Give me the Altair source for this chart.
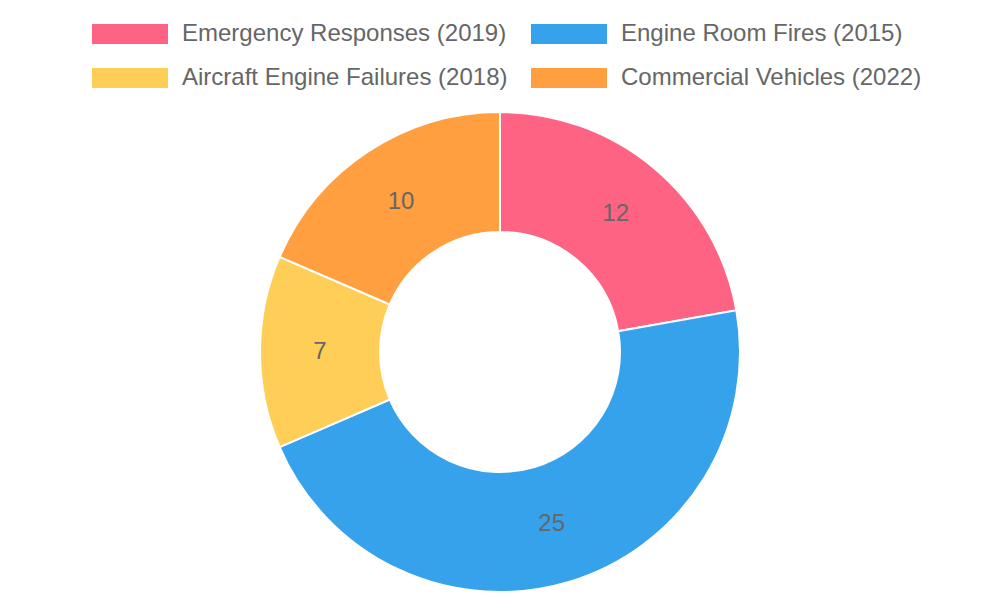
"""Doughnut chart of incident counts by category."""
import pandas as pd
import altair as alt

categories = [
    "Emergency Responses (2019)",
    "Engine Room Fires (2015)",
    "Aircraft Engine Failures (2018)",
    "Commercial Vehicles (2022)",
]
counts = [12, 25, 7, 10]
colours = ["#ff6384", "#36a2eb", "#ffce56", "#ff9f40"]

df = pd.DataFrame({"category": categories, "count": counts, "order": range(len(categories))})

# wide flat box for the legend swatches (scaled by sqrt(size) / 2)
box_path = "M-1,-0.2632H1V0.2632H-1Z"

base = alt.Chart(df).encode(
    theta=alt.Theta("count:Q", stack=True),
    order=alt.Order("order:Q"),
    color=alt.Color(
        "category:N",
        sort=categories,
        scale=alt.Scale(domain=categories, range=colours),
        legend=alt.Legend(
            title=None,
            orient="none",
            direction="horizontal",
            legendX=84,
            legendY=-90,
            columns=2,
            columnPadding=23,
            rowPadding=20,
            clipHeight=24,
            symbolType=box_path,
            symbolSize=5776,
            symbolStrokeWidth=0,
            symbolOpacity=1,
            labelOffset=14,
            labelFont="Liberation Sans",
            labelFontSize=24,
            labelColor="#666666",
            labelLimit=500,
        ),
    ),
)

donut = base.mark_arc(radius=240, innerRadius=120, stroke="white", strokeWidth=2, opacity=1)
labels = base.mark_text(radius=180, font="Liberation Sans", fontSize=24, fill="#666666").encode(
    text=alt.Text("count:Q"),
    color=alt.value("#666666"),
)

chart = (donut + labels).properties(
    width=984,
    height=480,
    autosize=alt.AutoSizeParams(type="none"),
    padding={"top": 104, "left": 0, "right": 0, "bottom": 0},
).configure_view(stroke=None)

chart.save("out.html", embed_options={"renderer": "svg", "actions": False})
